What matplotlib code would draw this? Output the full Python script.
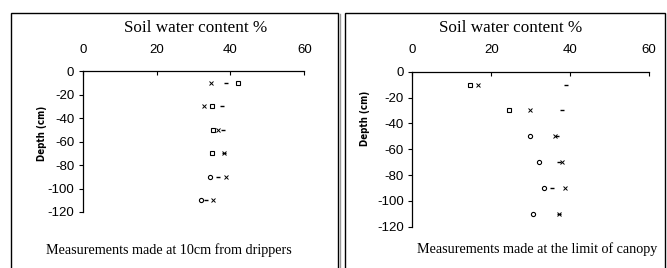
import matplotlib
matplotlib.use('Agg')
from matplotlib import pyplot as plt
from matplotlib.patches import Rectangle
from matplotlib.lines import Line2D

plt.rcParams['axes.unicode_minus'] = False

# Depth of each measurement (cm)
depth = [-10, -30, -50, -70, -90, -110]

# Left panel: 10cm from drippers (soil water content %)
left_a = [42.1, 35.0, 35.4, 35.1, 34.5, 32.1]
left_b = [38.8, 37.6, 38.1, 38.3, 36.7, 33.3]
left_c = [34.8, 32.8, 36.7, 38.3, 38.9, 35.2]

# Right panel: limit of canopy
right_a = [14.7, 24.4, 29.8, 32.2, 33.3, 30.6]
right_b = [39.0, 37.9, 36.7, 37.1, 35.5, 37.1]
right_c = [16.7, 29.8, 36.1, 38.0, 38.8, 37.1]

x_ticks = [0, 20, 40, 60]
y_ticks = [0, -20, -40, -60, -80, -100, -120]

W, H = 667, 268
fig = plt.figure(figsize=(W / 100, H / 100), dpi=100)

tick_font = ['Liberation Sans', 'DejaVu Sans']
serif = ['Liberation Serif', 'DejaVu Serif']


def fx(px):
    return px / W


def fy(py):
    return 1 - py / H


def panel(x0, x1, y0, y1, a, b, c, a_marks):
    ax = fig.add_axes([fx(x0), fy(y1), fx(x1 - x0), (y1 - y0) / H])
    for xv, yv, m in zip(a, depth, a_marks):
        ax.plot(xv, yv, marker=m, ms=3, mfc='none', mec='black', mew=0.8, ls='none')
    ax.plot(b, depth, marker='_', ms=3, mec='black', mew=1.0, ls='none')
    ax.plot(c, depth, marker='x', ms=3.5, mec='black', mew=0.7, ls='none')
    ax.set_xlim(0, 60)
    ax.set_ylim(-120, 0)
    ax.set_xticks(x_ticks)
    ax.set_yticks(y_ticks)
    ax.xaxis.tick_top()
    ax.spines['right'].set_visible(False)
    ax.spines['bottom'].set_visible(False)
    ax.spines['top'].set_linewidth(0.9)
    ax.spines['left'].set_linewidth(0.9)
    ax.tick_params(axis='x', direction='in', length=3, width=0.8, pad=11, labelsize=9.5)
    ax.tick_params(axis='y', direction='out', length=3, width=0.8, pad=3, labelsize=9.5)
    for lab in ax.get_xticklabels() + ax.get_yticklabels():
        lab.set_family(tick_font)
    ax.patch.set_alpha(0)
    return ax


panel(82.7, 304.3, 71.3, 212.0, left_a, left_b, left_c, ['s', 's', 's', 's', 'o', 'o'])
panel(412.3, 649.0, 71.7, 226.7, right_a, right_b, right_c, ['s', 's', 'o', 'o', 'o', 'o'])

# panel frames
fig.patches.append(Rectangle((fx(11), fy(275)), fx(337.5 - 11), (275 - 13.3) / H,
                             transform=fig.transFigure, fill=False, ec='black', lw=1.0))
fig.patches.append(Rectangle((fx(345), fy(275)), fx(664.7 - 345), (275 - 13.3) / H,
                             transform=fig.transFigure, fill=False, ec='black', lw=1.0))
fig.lines.append(Line2D([fx(339.8), fx(339.8)], [fy(14), 0], transform=fig.transFigure,
                        color='#999999', lw=1.0))

fig.text(fx(196), fy(28), 'Soil water content %', ha='center', va='center',
         family=serif, fontsize=12.3)
fig.text(fx(511), fy(28), 'Soil water content %', ha='center', va='center',
         family=serif, fontsize=12.3)

ylab = dict(rotation=90, ha='center', va='center', family=['DejaVu Sans'],
            fontstretch='condensed', fontweight='bold', fontsize=7)
fig.text(fx(41.7), fy(133), 'Depth (cm)', **ylab)
fig.text(fx(364.7), fy(118), 'Depth (cm)', **ylab)

fig.text(fx(168.5), fy(250), 'Measurements made at 10cm from drippers', ha='center',
         va='center', family=serif, fontsize=10.2)
fig.text(fx(537), fy(249), 'Measurements made at the limit of canopy', ha='center',
         va='center', family=serif, fontsize=10.2)

fig.savefig('out.png', dpi=100)
